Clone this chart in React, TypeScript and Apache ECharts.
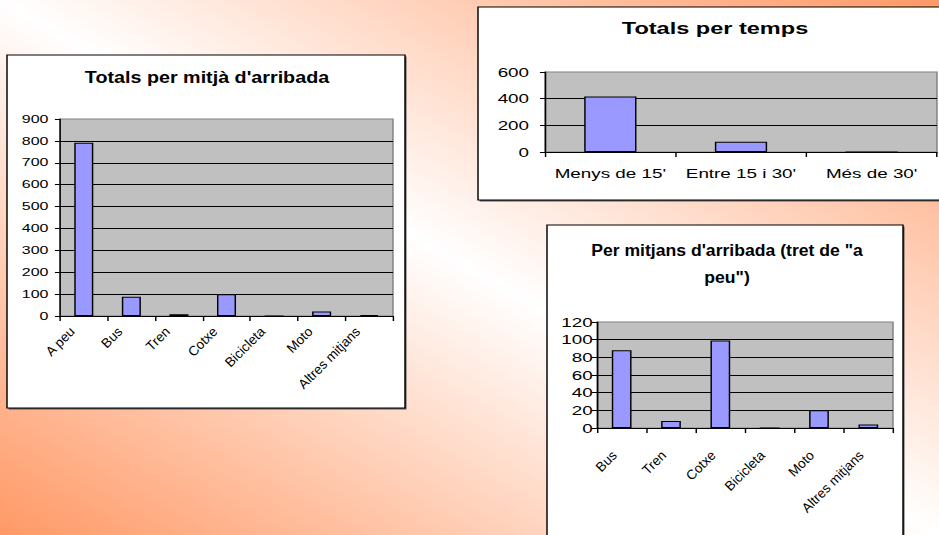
import React, { useEffect, useRef } from "react";
import * as echarts from "echarts";

// ---- data ----
const modeCategories = ["A peu", "Bus", "Tren", "Cotxe", "Bicicleta", "Moto", "Altres mitjans"];
const modeTotals = [792, 88, 8, 99, 0, 20, 4];
const modeTicks = [0, 100, 200, 300, 400, 500, 600, 700, 800, 900];

const timeCategories = ["Menys de 15'", "Entre 15 i 30'", "Més de 30'"];
const timeTotals = [417, 77, 0];
const timeTicks = [0, 200, 400, 600];

const otherCategories = ["Bus", "Tren", "Cotxe", "Bicicleta", "Moto", "Altres mitjans"];
const otherTotals = [88, 8, 99, 0, 20, 4];
const otherTicks = [0, 20, 40, 60, 80, 100, 120];

const titles = [
  "Totals per mitjà d'arribada",
  "Totals per temps",
  "Per mitjans d'arribada (tret de \"a\npeu\")",
];

// ---- layout ----
const W = 939;
const H = 535;
const S = 1.449; // horizontal stretch of the picture
const IW = 648; // inner width (939 / S)
const ix = (x: number) => x / S;
const FONT = '"Liberation Sans", Arial, Helvetica, sans-serif';

// plot areas in page pixels
const G1 = { left: 60, top: 119, width: 333, height: 197 };
const G2 = { left: 545, top: 72, width: 392, height: 80 };
const G3 = { left: 597, top: 322, width: 296, height: 106 };

function yAxisCfg(gridIndex: number, ticks: number[], fontSize: number, margin: number) {
  return {
    type: "value",
    gridIndex,
    min: ticks[0],
    max: ticks[ticks.length - 1],
    interval: ticks[1] - ticks[0],
    axisLine: { show: true, lineStyle: { color: "#000", width: 1 } },
    axisTick: { show: true, length: 3.5, lineStyle: { color: "#000", width: 1 } },
    axisLabel: { color: "#000", fontSize, fontFamily: FONT, margin },
    splitLine: {
      show: true,
      showMaxLine: false,
      showMinLine: false,
      lineStyle: { color: "#000", width: 1 },
    },
  };
}

function xAxisCfg(gridIndex: number, data: string[], fontSize: number, margin: number, showLabel: boolean) {
  return {
    type: "category",
    gridIndex,
    data,
    boundaryGap: true,
    axisLine: { show: true, onZero: false, lineStyle: { color: "#000", width: 1 } },
    axisTick: { show: true, length: 5, interval: 0, lineStyle: { color: "#000", width: 1 } },
    axisLabel: { show: showLabel, color: "#000", fontSize, fontFamily: FONT, interval: 0, margin },
    splitLine: { show: false },
  };
}

const barStyle = { color: "#9999ff", borderColor: "#000", borderWidth: 1 };

function box(x0: number, y0: number, x1: number, y1: number) {
  return [
    {
      type: "rect",
      z: -3,
      shape: { x: ix(x0) + 1.5 / S, y: y0 + 1.5, width: ix(x1 - x0), height: y1 - y0 },
      style: { fill: "#555" },
    },
    {
      type: "rect",
      z: -2,
      shape: { x: ix(x0), y: y0, width: ix(x1 - x0), height: y1 - y0 },
      style: { fill: "#fff", stroke: "#000", lineWidth: 1 },
    },
  ];
}

const gridBase = {
  show: true,
  backgroundColor: "#c0c0c0",
  borderColor: "#808080",
  borderWidth: 1,
  containLabel: false,
  outerBoundsMode: "none",
};

const scaledGrid = (g: { left: number; top: number; width: number; height: number }) => ({
  ...gridBase,
  left: ix(g.left),
  top: g.top,
  width: ix(g.width),
  height: g.height,
});

// Stretched layer: plot areas, bars, value axes, horizontal labels
const stretchedOption: any = {
  animation: false,
  backgroundColor: "transparent",
  grid: [scaledGrid(G1), scaledGrid(G2), scaledGrid(G3)],
  xAxis: [
    xAxisCfg(0, modeCategories, 12, 10, false),
    xAxisCfg(1, timeCategories, 13, 15, true),
    xAxisCfg(2, otherCategories, 13, 19, false),
  ],
  yAxis: [
    yAxisCfg(0, modeTicks, 11, 8),
    yAxisCfg(1, timeTicks, 13, 11),
    yAxisCfg(2, otherTicks, 13, 3),
  ],
  series: [
    { type: "bar", xAxisIndex: 0, yAxisIndex: 0, data: modeTotals, barWidth: "40%", itemStyle: barStyle },
    { type: "bar", xAxisIndex: 1, yAxisIndex: 1, data: timeTotals, barWidth: "40%", itemStyle: barStyle },
    { type: "bar", xAxisIndex: 2, yAxisIndex: 2, data: otherTotals, barWidth: "40%", itemStyle: barStyle },
  ],
  graphic: {
    elements: [...box(7, 55, 405, 408), ...box(478, 7, 948, 200), ...box(547, 225, 903, 545)],
  },
};

function title(text: string, cx: number, cy: number, fontSize: number, scaleX: number, lineHeight?: number) {
  return {
    type: "text",
    z: 100,
    x: cx,
    y: cy,
    scaleX,
    style: {
      text,
      fill: "#000",
      font: `bold ${fontSize}px ${FONT}`,
      fontFamily: FONT,
      fontWeight: "bold",
      fontSize,
      lineHeight: lineHeight || fontSize * 1.2,
      textAlign: "center",
      textVerticalAlign: "middle",
      align: "center",
      verticalAlign: "middle",
    },
  };
}

function labelAxis(gridIndex: number, data: string[], fontSize: number, margin: number, shift: number) {
  return {
    type: "category",
    gridIndex,
    data,
    boundaryGap: true,
    axisLine: { show: false },
    axisTick: { show: false },
    splitLine: { show: false },
    axisLabel: {
      show: true,
      color: "#000",
      fontSize,
      fontFamily: FONT,
      rotate: 45,
      interval: 0,
      margin,
      padding: [0, shift, 0, 0],
    },
  };
}

const plainGrid = (g: { left: number; top: number; width: number; height: number }) => ({
  ...g,
  show: false,
  containLabel: false,
  outerBoundsMode: "none",
});

// Unstretched layer: titles and slanted category labels
const overlayOption: any = {
  animation: false,
  backgroundColor: "transparent",
  grid: [plainGrid(G1), plainGrid(G3)],
  xAxis: [labelAxis(0, modeCategories, 13.5, 2, 16), labelAxis(1, otherCategories, 13.5, 18, 10)],
  yAxis: [
    { type: "value", gridIndex: 0, show: false, min: modeTicks[0], max: modeTicks[modeTicks.length - 1] },
    { type: "value", gridIndex: 1, show: false, min: otherTicks[0], max: otherTicks[otherTicks.length - 1] },
  ],
  series: [],
  graphic: {
    elements: [
      title(titles[0], 207, 77, 17, 1.16),
      title(titles[1], 715, 28, 16, 1.47),
      title(titles[2], 727, 263.5, 17, 1.036, 27),
    ],
  },
};

export default function App() {
  const stretchedRef = useRef<HTMLDivElement>(null);
  const overlayRef = useRef<HTMLDivElement>(null);
  useEffect(() => {
    document.body.style.margin = "0";
    const c1 = echarts.init(stretchedRef.current as HTMLDivElement, undefined, {
      renderer: "svg",
      width: IW,
      height: H,
    });
    c1.setOption(stretchedOption);
    const c2 = echarts.init(overlayRef.current as HTMLDivElement, undefined, {
      renderer: "svg",
      width: W,
      height: H,
    });
    c2.setOption(overlayOption);
    return () => {
      c1.dispose();
      c2.dispose();
    };
  }, []);
  return (
    <div
      style={{
        position: "fixed",
        left: 0,
        top: 0,
        width: W,
        height: H,
        overflow: "hidden",
        background: "linear-gradient(to top right, #ff9966 0%, #ffffff 50%, #ff9966 100%)",
      }}
    >
      <div
        ref={stretchedRef}
        style={{
          position: "absolute",
          left: 0,
          top: 0,
          width: IW,
          height: H,
          transform: `scaleX(${S})`,
          transformOrigin: "0 0",
        }}
      />
      <div
        ref={overlayRef}
        style={{ position: "absolute", left: 0, top: 0, width: W, height: H, pointerEvents: "none" }}
      />
    </div>
  );
}
